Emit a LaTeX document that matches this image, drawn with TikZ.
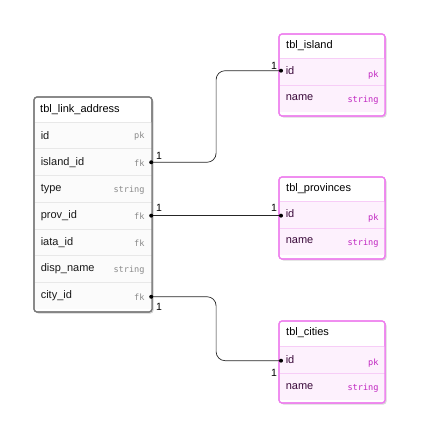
\documentclass[tikz,border=0pt]{standalone}
\usepackage{fontspec}
\setmainfont{Liberation Sans}
\setmonofont{DejaVu Sans Mono}
\usetikzlibrary{calc,shadows}
\definecolor{grayframe}{HTML}{7A7A7A}
\definecolor{graysep}{HTML}{E8E8E8}
\definecolor{grayrow}{HTML}{FBFBFB}
\definecolor{graytype}{HTML}{8A8A8A}
\definecolor{pinkframe}{HTML}{EE7EEE}
\definecolor{pinksep}{HTML}{F7CDF7}
\definecolor{pinkrow}{HTML}{FDF1FD}
\definecolor{pinktext}{HTML}{3A0A3A}
\definecolor{pinktype}{HTML}{C024C0}
\tikzset{
  frameG/.style={draw=grayframe, line width=1.2pt, rounded corners=3pt, fill=white,
    drop shadow={shadow xshift=1.5pt, shadow yshift=-1.5pt, opacity=0.18, fill=black}},
  frameP/.style={draw=pinkframe, line width=1.2pt, rounded corners=3pt, fill=white,
    drop shadow={shadow xshift=1.5pt, shadow yshift=-1.5pt, opacity=0.15, fill=black}},
  rowG/.style={rectangle, inner sep=0pt, fill=grayrow, anchor=north west},
  rowP/.style={rectangle, inner sep=0pt, fill=pinkrow, anchor=north west},
  title/.style={anchor=west, inner sep=0pt, font=\fontsize{11}{13}\selectfont, text=black},
  fieldG/.style={anchor=west, inner sep=0pt, font=\fontsize{11}{13}\selectfont, text=black!90},
  fieldP/.style={anchor=west, inner sep=0pt, font=\fontsize{11}{13}\selectfont, text=pinktext},
  typeG/.style={anchor=east, inner sep=0pt, font=\ttfamily\fontsize{8.6}{10}\selectfont, text=graytype},
  typeP/.style={anchor=east, inner sep=0pt, font=\ttfamily\fontsize{8.6}{10}\selectfont, text=pinktype},
  conn/.style={draw=black!85, line width=0.7pt, rounded corners=9pt},
  enddot/.style={fill=black, draw=none},
  card/.style={inner sep=0pt, font=\fontsize{10.5}{12}\selectfont},
}
\begin{document}
\begin{tikzpicture}[x=1pt,y=-1pt]
\useasboundingbox (0,0) rectangle (421,440);

% ---------- tbl_link_address ----------
\path[frameG] (34,97) rectangle (152,312);
\node[title] (lh) at (40,110) {tbl\_link\_address};
\foreach \i/\nm/\ty [count=\k from 0] in
  {la/id/pk, lb/island\_id/fk, lc/type/string, ld/prov\_id/fk,
   le/iata\_id/fk, lf/disp\_name/string, lg/city\_id/fk}{
  \node[rowG, minimum width=116.8pt, minimum height=26.7pt] (\i) at (34.6,{122+26.7*\k}) {};
  \draw[graysep, line width=0.6pt] (\i.north west) -- (\i.north east);
  \node[fieldG] at ($(\i.west)+(6,0)$) {\nm};
  \node[typeG] at ($(\i.east)+(-7,1)$) {\ty};
}
\path[draw=grayframe, line width=1.2pt, rounded corners=3pt] (34,97) rectangle (152,312);

% ---------- tbl_island ----------
\path[frameP] (279,34) rectangle (385,116);
\node[title] (ih) at (286,46) {tbl\_island};
\node[rowP, minimum width=104.8pt, minimum height=27pt] (ia) at (279.6,58) {};
\node[rowP, minimum width=104.8pt, minimum height=27pt] (ib) at (279.6,85) {};
\draw[pinksep, line width=0.6pt] (ia.north west) -- (ia.north east);
\draw[pinksep, line width=0.6pt] (ib.north west) -- (ib.north east);
\node[fieldP] at ($(ia.west)+(6,-1)$) {id};
\node[typeP] at ($(ia.east)+(-6,3)$) {pk};
\node[fieldP] at ($(ib.west)+(6,-1)$) {name};
\node[typeP] at ($(ib.east)+(-6,1)$) {string};
\path[draw=pinkframe, line width=1.2pt, rounded corners=3pt] (279,34) rectangle (385,116);

% ---------- tbl_provinces ----------
\path[frameP] (279,177) rectangle (385,259);
\node[title] (ph) at (286,189) {tbl\_provinces};
\node[rowP, minimum width=104.8pt, minimum height=27pt] (pa) at (279.6,201) {};
\node[rowP, minimum width=104.8pt, minimum height=27pt] (pb) at (279.6,228) {};
\draw[pinksep, line width=0.6pt] (pa.north west) -- (pa.north east);
\draw[pinksep, line width=0.6pt] (pb.north west) -- (pb.north east);
\node[fieldP] at ($(pa.west)+(6,-1)$) {id};
\node[typeP] at ($(pa.east)+(-6,3)$) {pk};
\node[fieldP] at ($(pb.west)+(6,-1)$) {name};
\node[typeP] at ($(pb.east)+(-6,1)$) {string};
\path[draw=pinkframe, line width=1.2pt, rounded corners=3pt] (279,177) rectangle (385,259);

% ---------- tbl_cities ----------
\path[frameP] (279,321) rectangle (385,403);
\node[title] (ch) at (286,333) {tbl\_cities};
\node[rowP, minimum width=104.8pt, minimum height=27pt] (ca) at (279.6,346) {};
\node[rowP, minimum width=104.8pt, minimum height=27pt] (cb) at (279.6,373) {};
\draw[pinksep, line width=0.6pt] (ca.north west) -- (ca.north east);
\draw[pinksep, line width=0.6pt] (cb.north west) -- (cb.north east);
\node[fieldP] at ($(ca.west)+(6,0)$) {id};
\node[typeP] at ($(ca.east)+(-6,3)$) {pk};
\node[fieldP] at ($(cb.west)+(6,0)$) {name};
\node[typeP] at ($(cb.east)+(-6,1)$) {string};
\path[draw=pinkframe, line width=1.2pt, rounded corners=3pt] (279,321) rectangle (385,403);

% ---------- relationships ----------
\coordinate (s1) at ($(lb.east)+(-0.6,0)$);
\coordinate (t1) at ($(ia.west)+(1.4,-1)$);
\coordinate (s2) at ($(ld.east)+(-0.6,0)$);
\coordinate (t2) at ($(pa.west |- s2)+(1.4,0)$);
\coordinate (s3) at ($(lg.east)+(-0.6,1)$);
\coordinate (t3) at ($(ca.west)+(1.4,1)$);
\draw[conn] (s1) -| ($(s1)!0.5!(t1)$) |- (t1);
\draw[conn] (s2) -- (t2);
\draw[conn] (s3) -| ($(s3)!0.5!(t3)$) |- (t3);
\foreach \p in {s1,t1,s2,t2,s3,t3} \fill[enddot] (\p) circle (2pt);

\node[card] (n1a) at (159,156) {1};
\node[card] (n1b) at (274,66) {1};
\node[card] (n2a) at (159,208) {1};
\node[card] (n2b) at (274,208) {1};
\node[card] (n3a) at (159,307) {1};
\node[card] (n3b) at (274,373) {1};
\end{tikzpicture}
\end{document}
